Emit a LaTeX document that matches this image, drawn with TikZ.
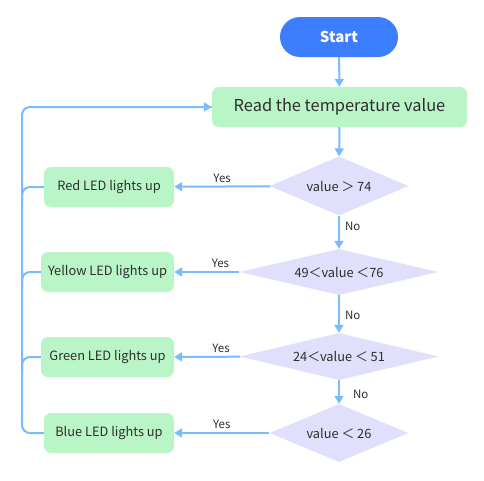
\documentclass[tikz,border=0pt]{standalone}
\usepackage{fontspec}
\setmainfont{Noto Sans CJK SC}
\usetikzlibrary{positioning,arrows.meta,shapes.geometric}

\definecolor{flowline}{HTML}{79BBFF}
\definecolor{startblue}{HTML}{3D7EFF}
\definecolor{stepgreen}{HTML}{BAF5C8}
\definecolor{testlilac}{HTML}{E0E0FC}
\definecolor{textgray}{HTML}{2E2E2E}

\begin{document}
\begin{tikzpicture}[x=1pt,y=-1pt,
	every node/.style={text=textgray,font=\fontsize{12.8}{15}\selectfont},
	startbox/.style={fill=startblue,rounded corners=20pt,minimum width=118pt,minimum height=40pt,
		text=white,font=\fontsize{15}{18}\selectfont\bfseries},
	stepbox/.style={fill=stepgreen,rounded corners=7pt,minimum height=40pt},
	testbox/.style={diamond,fill=testlilac,inner sep=0pt},
	flow/.style={draw=flowline,line width=2pt,-{Triangle[width=9pt,length=8pt]}},
	loop/.style={draw=flowline,line width=2pt,rounded corners=8pt},
	lbl/.style={font=\fontsize{11.5}{13}\selectfont,inner sep=1pt}]
	\useasboundingbox (0,0) rectangle (484,480);
	% main column
	\node[startbox] (start) at (339,37) {Start};
	\node[stepbox,minimum width=255pt,font=\fontsize{16.4}{19}\selectfont] (read) at (339.5,107) {Read the temperature value};
	\node[testbox,minimum width=139pt,minimum height=59pt,aspect=2.35] (test1) at (339,186) {value ＞ 74};
	\node[testbox,minimum width=199pt,minimum height=46pt,aspect=4.3] (test2) at (339,272) {49＜value ＜76};
	\node[testbox,minimum width=199pt,minimum height=47pt,aspect=4.2] (test3) at (339,356.5) {24＜value ＜ 51};
	\node[testbox,minimum width=139pt,minimum height=58pt,aspect=2.4] (test4) at (339,433) {value ＜ 26};
	% LED boxes
	\node[stepbox,minimum width=130pt] (red) at (109,187) {Red LED lights up};
	\node[stepbox,minimum width=133pt] (yellow) at (107.5,272) {Yellow LED lights up};
	\node[stepbox,minimum width=133pt] (green) at (107.5,357) {Green LED lights up};
	\node[stepbox,minimum width=130pt] (blue) at (109,433) {Blue LED lights up};
	\coordinate (looptop) at (22,107);
	\coordinate (loopbot) at (22,433);

	\draw[flow] (start) -- (read);
	\draw[flow] (read) -- (test1);
	\draw[flow] (test1) -- node[lbl,right=4pt,pos=0.33] {No} (test2);
	\draw[flow] (test2) -- node[lbl,right=4pt,pos=0.53] {No} (test3);
	\draw[flow] (test3) -- node[lbl,right=12pt,pos=0.58] {No} (test4);
	\draw[flow] (test1) -- node[lbl,above=2pt] {Yes} (red);
	\draw[flow] (test2) -- node[lbl,above=2pt,pos=0.29] {Yes} (yellow);
	\draw[flow] (test3) -- node[lbl,above=2pt,pos=0.29] {Yes} (green);
	\draw[flow] (test4) -- node[lbl,above=2pt] {Yes} (blue);
	% back to reading
	\draw[loop] (blue.west) -- (loopbot) -- (looptop) -- ([yshift=0pt]read.west);
	\draw[flow] ([xshift=20pt]looptop) -- (read.west);
	\draw[loop] (red.west) -| ([yshift=-14pt]red.west -| looptop);
	\draw[loop] (yellow.west) -| ([yshift=-14pt]yellow.west -| looptop);
	\draw[loop] (green.west) -| ([yshift=-14pt]green.west -| looptop);
\end{tikzpicture}
\end{document}
